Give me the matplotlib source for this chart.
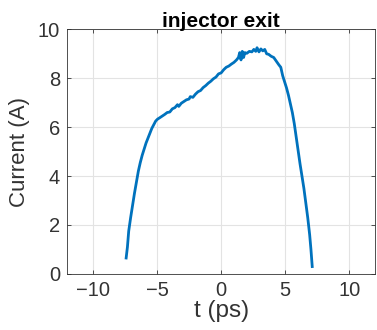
"""Injector exit current profile, MATLAB-like styling."""

import matplotlib
matplotlib.use("Agg")
import matplotlib.pyplot as plt

# values
t_ps = [-7.4, -7.3, -7.2, -7.05, -6.9, -6.75, -6.6, -6.45, -6.3, -6.15,
        -6.0, -5.85, -5.7, -5.55, -5.4, -5.25, -5.1, -4.95, -4.8, -4.6,
        -4.4, -4.2, -4.0, -3.8, -3.6, -3.4, -3.3, -3.1, -2.9, -2.7,
        -2.5, -2.4, -2.2, -2.0, -1.8, -1.6, -1.4, -1.2, -1.0, -0.8,
        -0.6, -0.4, -0.2, 0.0, 0.2, 0.4, 0.6, 0.8, 1.0, 1.2,
        1.35, 1.45, 1.55, 1.65, 1.75, 1.85, 2.0, 2.2, 2.4, 2.55,
        2.7, 2.8, 2.95, 3.1, 3.25, 3.4, 3.55, 3.7, 3.9, 4.1,
        4.3, 4.5, 4.65, 4.8, 4.95, 5.1, 5.25, 5.4, 5.55, 5.7,
        5.85, 6.0, 6.15, 6.3, 6.45, 6.6, 6.75, 6.9, 7.0, 7.1]
current_a = [0.65, 1.1, 1.75, 2.3, 2.8, 3.3, 3.75, 4.2, 4.55, 4.85,
             5.1, 5.35, 5.55, 5.75, 5.95, 6.1, 6.25, 6.33, 6.38, 6.45,
             6.52, 6.6, 6.62, 6.75, 6.8, 6.92, 6.85, 6.98, 7.05, 7.12,
             7.15, 7.25, 7.22, 7.35, 7.45, 7.5, 7.62, 7.7, 7.8, 7.88,
             7.98, 8.05, 8.18, 8.22, 8.35, 8.45, 8.5, 8.58, 8.65, 8.75,
             8.85, 9.05, 8.75, 9.1, 8.85, 9.05, 9.02, 9.1, 9.08, 9.18,
             9.1, 9.25, 9.08, 9.2, 9.12, 9.18, 9.0, 8.98, 8.9, 8.85,
             8.7, 8.55, 8.45, 8.1, 7.85, 7.6, 7.3, 6.95, 6.6, 6.15,
             5.6, 5.05, 4.5, 4.0, 3.5, 2.9, 2.3, 1.6, 1.0, 0.3]
x_ticks = [-10, -5, 0, 5, 10]
y_ticks = [0, 2, 4, 6, 8, 10]

plt.rcParams["font.family"] = ["Liberation Sans", "DejaVu Sans"]

fig = plt.figure(figsize=(3.77, 3.30), dpi=100)
ax = fig.add_axes([0.178, 0.170, 0.817, 0.741])

ax.plot(t_ps, current_a, c="#0072BD", lw=2.0)

ax.set_xlim(-12, 12)
ax.set_ylim(0, 10)
ax.set_xticks(x_ticks)
ax.set_yticks(y_ticks)
ax.grid(True, color="#e3e3e3", lw=0.8)
ax.set_axisbelow(True)

ax.tick_params(direction="in", top=True, right=True, length=3,
               width=0.6, colors="#333333", labelsize=14.5, pad=5)
for s in ax.spines.values():
    s.set_color("#333333")
    s.set_linewidth(0.6)

ax.set_xlabel("t (ps)", fontsize=17.5, color="#333333", labelpad=0)
ax.set_ylabel("Current (A)", fontsize=16, color="#333333", labelpad=6)
ax.set_title("injector exit", fontsize=15, fontweight="bold", pad=2)

fig.savefig("out.png", dpi=100)
